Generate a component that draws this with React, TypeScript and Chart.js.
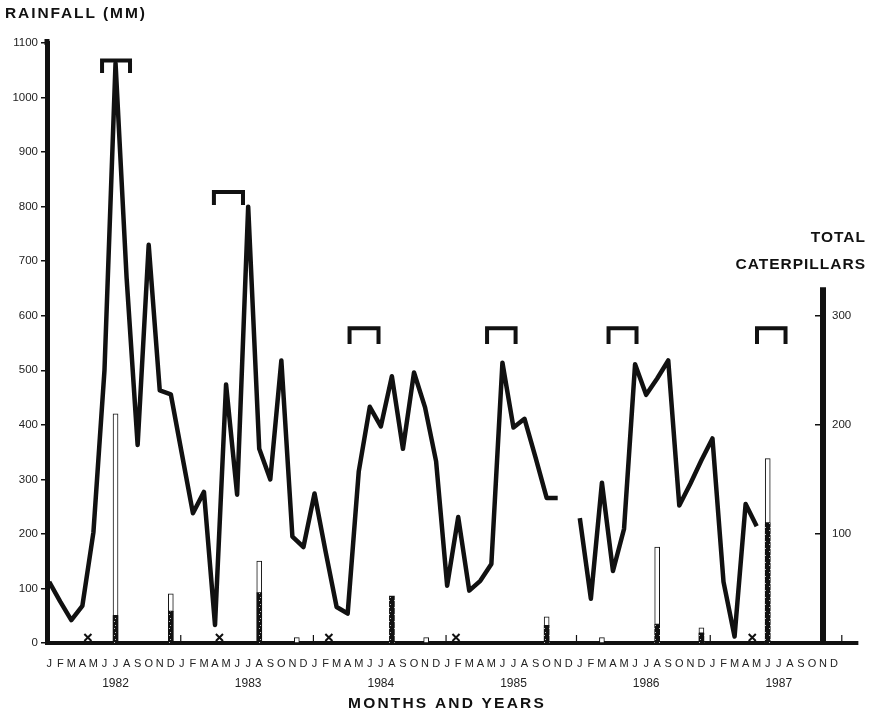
import React, { useEffect, useRef } from 'react';
import { Chart, registerables } from 'chart.js';

Chart.register(...registerables);

const FONT = '"Liberation Sans", Arial, Helvetica, sans-serif';

// Month letters and year labels
const MONTH_LETTERS = ['J', 'F', 'M', 'A', 'M', 'J', 'J', 'A', 'S', 'O', 'N', 'D'];
const YEARS = ['1982', '1983', '1984', '1985', '1986', '1987'];

// Monthly rainfall (mm), Jan..Dec; null = no record
const rain1982 = [112, 76, 42, 68, 203, 500, 1063, 670, 363, 730, 463, 456];
const rain1983 = [347, 238, 277, 33, 474, 272, 800, 356, 300, 518, 195, 176];
const rain1984 = [274, 168, 66, 54, 314, 433, 397, 489, 356, 496, 432, 333];
const rain1985 = [105, 231, 96, 114, 145, 514, 395, 411, 340, 266, 266, null];
const rain1986 = [229, 81, 294, 132, 209, 511, 455, 485, 518, 252, 292, 335];
const rain1987 = [375, 112, 12, 255, 214, null, null, null, null, null, null, null];
const rainfall: (number | null)[] = [...rain1982, ...rain1983, ...rain1984, ...rain1985, ...rain1986, ...rain1987];

// Caterpillar counts (right axis); month index from Jan 1982 = 0
const barMonths = [6, 11, 19, 22.4, 31, 34.1, 45, 50, 55, 59, 65];
const hatchedCounts = [25, 29, 46, 0, 43, 0, 16, 0, 17, 9, 110];
const totalCounts = [210, 45, 75, 5, 43, 5, 24, 5, 88, 14, 169];

// "X" markers along the base line
const markerMonths = [3.5, 15.4, 25.3, 36.8, 63.6];
const markerLevel = [10, 10, 10, 10, 10];

// Brackets over the seasons (month span, top and leg bottom in mm)
const bracketStart = [4.78, 14.9, 27.17, 39.61, 50.6, 64.03];
const bracketEnd = [7.31, 17.53, 29.79, 42.19, 53.13, 66.61];
const bracketTop = [1068, 827, 577, 577, 577, 577];
const bracketLeg = [1045, 803, 548, 548, 548, 548];

// Year separator tick marks on the base line
const yearTickMonths = [11.9, 23.9, 35.9, 47.7, 59.8, 71.7];

const leftTicksMax = 1100;
const rightTicksMax = 550;
const rightTicks = [100, 200, 300];
const rightAxisTop = 326;

function makePattern(): CanvasPattern | string {
  const c = document.createElement('canvas');
  c.width = 5;
  c.height = 7;
  const g = c.getContext('2d');
  if (!g) return '#111';
  g.fillStyle = '#111111';
  g.fillRect(0, 0, 5, 7);
  g.fillStyle = '#bdbdbd';
  g.fillRect(0, 2, 1, 1);
  g.fillRect(4, 5, 1, 1);
  const p = g.createPattern(c, 'repeat');
  return p || '#111';
}

const decorPlugin = {
  id: 'decor',
  afterDraw(chart: any) {
    const { ctx, chartArea } = chart;
    const x = chart.scales.x;
    const y = chart.scales.y;
    const yR = chart.scales.yR;
    const y0 = y.getPixelForValue(0);
    ctx.save();
    ctx.strokeStyle = '#111';
    ctx.lineCap = 'butt';
    // base line extension to the right
    ctx.lineWidth = 4;
    ctx.beginPath();
    ctx.moveTo(chartArea.right - 2, y0);
    ctx.lineTo(x.getPixelForValue(73.2), y0);
    ctx.stroke();
    // left axis small extension above 1100
    ctx.lineWidth = 5;
    ctx.beginPath();
    ctx.moveTo(chartArea.left, chartArea.top + 2);
    ctx.lineTo(chartArea.left, chartArea.top - 4);
    ctx.stroke();
    // right (caterpillar) axis line
    ctx.lineWidth = 6;
    ctx.beginPath();
    ctx.moveTo(yR.left, yR.getPixelForValue(0));
    ctx.lineTo(yR.left, yR.getPixelForValue(rightAxisTop));
    ctx.stroke();
    // year ticks
    ctx.lineWidth = 1.2;
    yearTickMonths.forEach((m) => {
      const px = x.getPixelForValue(m);
      ctx.beginPath();
      ctx.moveTo(px, y0 - 2);
      ctx.lineTo(px, y0 - 8);
      ctx.stroke();
    });
    // titles
    ctx.fillStyle = '#111';
    ctx.textBaseline = 'middle';
    ctx.font = `bold 15.5px ${FONT}`;
    (ctx as any).letterSpacing = '1.9px';
    ctx.textAlign = 'left';
    ctx.fillText('RAINFALL (MM)', 5, 14);
    ctx.font = `bold 15.5px ${FONT}`;
    (ctx as any).letterSpacing = '2.2px';
    ctx.textAlign = 'center';
    ctx.fillText('MONTHS AND YEARS', 447, 704);
    ctx.textAlign = 'right';
    (ctx as any).letterSpacing = '1px';
    ctx.fillText('TOTAL', 866, 237.5);
    ctx.fillText('CATERPILLARS', 866, 265);
    ctx.restore();
  },
};

export default function App() {
  const canvasRef = useRef<HTMLCanvasElement | null>(null);

  useEffect(() => {
    const canvas = canvasRef.current;
    if (!canvas) return;
    const pattern = makePattern();

    const rainData = rainfall.map((v, i) => ({ x: i, y: v }));
    const hatchedData = barMonths.map((m, i) => ({ x: m, y: hatchedCounts[i] > 0 ? hatchedCounts[i] : null }));
    const openData = barMonths.map((m, i) => ({
      x: m,
      y: totalCounts[i] > hatchedCounts[i] ? [hatchedCounts[i], totalCounts[i]] : null,
    }));
    const markerData = markerMonths.map((m, i) => ({ x: m, y: markerLevel[i] }));
    const bracketData: { x: number; y: number | null }[] = [];
    bracketStart.forEach((s, i) => {
      const e = bracketEnd[i];
      bracketData.push({ x: s, y: bracketLeg[i] });
      bracketData.push({ x: s, y: bracketTop[i] });
      bracketData.push({ x: e, y: bracketTop[i] });
      bracketData.push({ x: e, y: bracketLeg[i] });
      bracketData.push({ x: e, y: null });
    });

    const tickFont = { family: FONT, size: 11.5 };

    const chart = new Chart(canvas, {
      type: 'line',
      data: {
        datasets: [
          {
            type: 'line',
            label: 'Rainfall',
            data: rainData as any,
            xAxisID: 'x',
            yAxisID: 'y',
            borderColor: '#111',
            borderWidth: 4.5,
            pointRadius: 0,
            tension: 0,
            spanGaps: false,
            borderJoinStyle: 'round',
            borderCapStyle: 'butt',
          },
          {
            type: 'line',
            label: 'Brackets',
            data: bracketData as any,
            xAxisID: 'x',
            yAxisID: 'y',
            borderColor: '#111',
            borderWidth: 4,
            pointRadius: 0,
            tension: 0,
            spanGaps: false,
            borderJoinStyle: 'miter',
            borderCapStyle: 'butt',
          },
          {
            type: 'scatter',
            label: 'Markers',
            data: markerData as any,
            xAxisID: 'x',
            yAxisID: 'y',
            pointStyle: 'crossRot',
            pointRadius: 5,
            borderColor: '#111',
            borderWidth: 2,
            showLine: false,
          } as any,
          {
            type: 'bar',
            label: 'Open',
            data: openData as any,
            xAxisID: 'x',
            yAxisID: 'yR',
            backgroundColor: '#ffffff',
            borderColor: '#111',
            borderWidth: 1,
            borderSkipped: false,
            barThickness: 5,
            grouped: false,
          } as any,
          {
            type: 'bar',
            label: 'Hatched',
            data: hatchedData as any,
            xAxisID: 'x',
            yAxisID: 'yR',
            backgroundColor: pattern as any,
            borderWidth: 0,
            barThickness: 5,
            grouped: false,
          } as any,
        ],
      },
      options: {
        responsive: false,
        animation: false,
        devicePixelRatio: 1,
        layout: { padding: { left: 0, right: 0, top: 43, bottom: 19 } },
        plugins: {
          legend: { display: false },
          tooltip: { enabled: false },
          title: { display: false },
        },
        scales: {
          x: {
            type: 'linear',
            position: 'bottom',
            offset: false,
            min: -0.2,
            max: 70,
            weight: 0,
            grid: { display: false, drawTicks: false, offset: false },
            border: { display: true, width: 4, color: '#111' },
            ticks: {
              autoSkip: false,
              maxRotation: 0,
              padding: 14,
              color: '#222',
              font: { family: FONT, size: 11 },
              callback: (v: any) => MONTH_LETTERS[Math.round(Number(v)) % 12],
            },
            afterBuildTicks: (axis: any) => {
              axis.ticks = rainfall.map((_, i) => ({ value: i }));
            },
            afterFit: (axis: any) => {
              axis.height = 30;
            },
          },
          x2: {
            type: 'linear',
            position: 'bottom',
            offset: false,
            min: -0.2,
            max: 70,
            weight: 1,
            grid: { display: false, drawTicks: false },
            border: { display: false },
            ticks: {
              autoSkip: false,
              maxRotation: 0,
              padding: 3,
              color: '#222',
              font: { family: FONT, size: 12 },
              callback: (v: any) => YEARS[Math.round((Number(v) - 6) / 12)] ?? '',
            },
            afterBuildTicks: (axis: any) => {
              axis.ticks = YEARS.map((_, i) => ({ value: 6 + 12 * i }));
            },
            afterFit: (axis: any) => {
              axis.height = 22;
            },
          },
          y: {
            type: 'linear',
            position: 'left',
            min: 0,
            max: leftTicksMax,
            grid: { drawOnChartArea: false, drawTicks: true, tickLength: 6, color: '#111', lineWidth: 1.5 },
            border: { display: true, width: 5, color: '#111' },
            ticks: {
              stepSize: 100,
              padding: 3,
              color: '#222',
              font: tickFont,
              callback: (v: any) => String(v),
            },
            afterFit: (axis: any) => {
              axis.width = 47;
            },
          },
          yR: {
            type: 'linear',
            position: 'right',
            min: 0,
            max: rightTicksMax,
            grid: { drawOnChartArea: false, drawTicks: true, tickLength: -8, color: '#111', lineWidth: 1.5 },
            border: { display: false },
            ticks: { padding: 17, color: '#222', font: tickFont, callback: (v: any) => String(v) },
            afterBuildTicks: (axis: any) => {
              axis.ticks = rightTicks.map((v) => ({ value: v }));
            },
            afterFit: (axis: any) => {
              axis.width = 52;
            },
          },
        },
      } as any,
      plugins: [decorPlugin],
    });

    return () => {
      chart.destroy();
    };
  }, []);

  return (
    <div style={{ position: 'fixed', left: 0, top: 0, width: 875, height: 714, background: '#fff' }}>
      <canvas ref={canvasRef} width={875} height={714} style={{ display: 'block', width: 875, height: 714 }} />
    </div>
  );
}
